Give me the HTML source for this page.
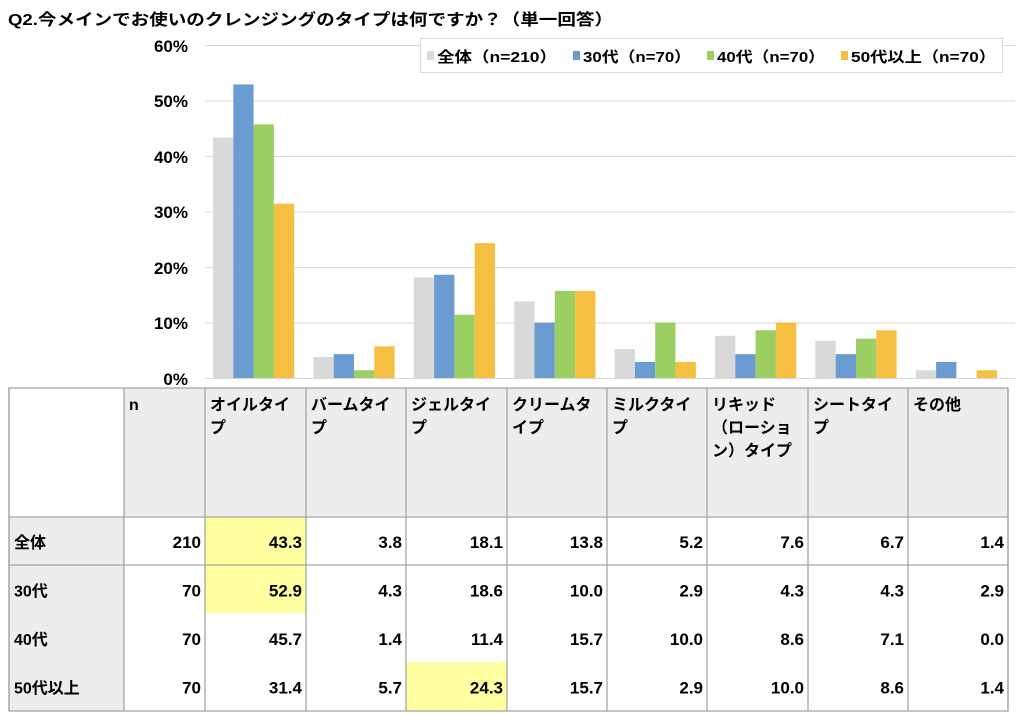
<!DOCTYPE html>
<html><head><meta charset="utf-8"><style>
body{margin:0;background:#fff;}
svg{display:block;font-family:"Liberation Sans","Noto Sans CJK JP",sans-serif;font-weight:bold;}
</style></head><body>
<svg width="1024" height="714" viewBox="0 0 1024 714" xmlns="http://www.w3.org/2000/svg">
<text x="8" y="25" font-size="16" textLength="605" lengthAdjust="spacingAndGlyphs">Q2.今メインでお使いのクレンジングのタイプは何ですか？（単一回答）</text>
<g stroke="#d9d9d9" stroke-width="1">
<line x1="205" y1="45.5" x2="1015" y2="45.5"/><line x1="205" y1="101" x2="1015" y2="101"/>
<line x1="205" y1="156.5" x2="1015" y2="156.5"/><line x1="205" y1="212" x2="1015" y2="212"/>
<line x1="205" y1="267.5" x2="1015" y2="267.5"/><line x1="205" y1="323" x2="1015" y2="323"/>
<line x1="205" y1="378.5" x2="1015" y2="378.5"/>
</g>
<g font-size="17" text-anchor="end">
<text x="188" y="52">60%</text><text x="188" y="107">50%</text><text x="188" y="163">40%</text>
<text x="188" y="218">30%</text><text x="188" y="274">20%</text><text x="188" y="329">10%</text><text x="188" y="385">0%</text>
</g>
<g id="bars"></g>
<rect x="420.5" y="38.5" width="582" height="34" fill="#fff" stroke="#d9d9d9"/>
<g font-size="15">
<rect x="427" y="51" width="7" height="9" fill="#d9d9d9"/><text x="437" y="62" textLength="120" lengthAdjust="spacingAndGlyphs">全体（n=210）</text>
<rect x="573" y="51" width="7" height="9" fill="#6a9bd1"/><text x="583" y="62" textLength="108" lengthAdjust="spacingAndGlyphs">30代（n=70）</text>
<rect x="707" y="51" width="7" height="9" fill="#9bcf63"/><text x="717" y="62" textLength="108" lengthAdjust="spacingAndGlyphs">40代（n=70）</text>
<rect x="841" y="51" width="7" height="9" fill="#f5bf42"/><text x="851" y="62" textLength="145" lengthAdjust="spacingAndGlyphs">50代以上（n=70）</text>
</g>
<g id="table"></g>
</svg>
<script>
var ns="http://www.w3.org/2000/svg";
function el(p,t,a,txt){var e=document.createElementNS(ns,t);for(var k in a)e.setAttribute(k,a[k]);if(txt!=null)e.textContent=txt;p.appendChild(e);return e;}
var d=[[43.3,3.8,18.1,13.8,5.2,7.6,6.7,1.4],[52.9,4.3,18.6,10.0,2.9,4.3,4.3,2.9],[45.7,1.4,11.4,15.7,10.0,8.6,7.1,0.0],[31.4,5.7,24.3,15.7,2.9,10.0,8.6,1.4]];
var cols=["#d9d9d9","#6a9bd1","#9bcf63","#f5bf42"];
var b=document.getElementById("bars");
for(var i=0;i<8;i++){var gx=205+100.4*i;for(var k=0;k<4;k++){var h=d[k][i]*5.55;if(h>0)el(b,"rect",{x:gx+8+k*20.3,y:378-h,width:20.3,height:h,fill:cols[k]});}}
var t=document.getElementById("table");
var xs=[9,124,205,306,406,507,607,707,808,908,1008];
// backgrounds
el(t,"rect",{x:124,y:388,width:884,height:129,fill:"#ededed"});
el(t,"rect",{x:9,y:517,width:115,height:194,fill:"#ededed"});
el(t,"rect",{x:205,y:517,width:101,height:96,fill:"#ffff9f"});
el(t,"rect",{x:406,y:662,width:101,height:49,fill:"#ffff9f"});
var g=el(t,"g",{stroke:"#a6a6a6","stroke-width":"1.3",fill:"none"});
el(g,"rect",{x:9,y:388,width:999,height:323});
xs.forEach(function(x){el(g,"line",{x1:x,y1:388,x2:x,y2:711});});
el(g,"line",{x1:9,y1:517,x2:1008,y2:517});
el(g,"line",{x1:9,y1:565,x2:1008,y2:565});
var hd=[["n"],["オイルタイ","プ"],["バームタイ","プ"],["ジェルタイ","プ"],["クリームタ","イプ"],["ミルクタイ","プ"],["リキッド","（ローショ","ン）タイプ"],["シートタイ","プ"],["その他"]];
hd.forEach(function(lines,j){lines.forEach(function(s,l){el(t,"text",{x:xs[j+1]+5,y:410+l*23,"font-size":"16"},s);});});
var rl=["全体","30代","40代","50代以上"],ns_=[210,70,70,70];
for(var r=0;r<4;r++){var y=548+r*48.5;
el(t,"text",{x:14,y:y,"font-size":"16"},rl[r]);
el(t,"text",{x:201,y:y,"font-size":"17","text-anchor":"end"},ns_[r]);
for(var i=0;i<8;i++)el(t,"text",{x:xs[i+3]-4,y:y,"font-size":"17","text-anchor":"end"},d[r][i].toFixed(1));}
</script>
</body></html>
